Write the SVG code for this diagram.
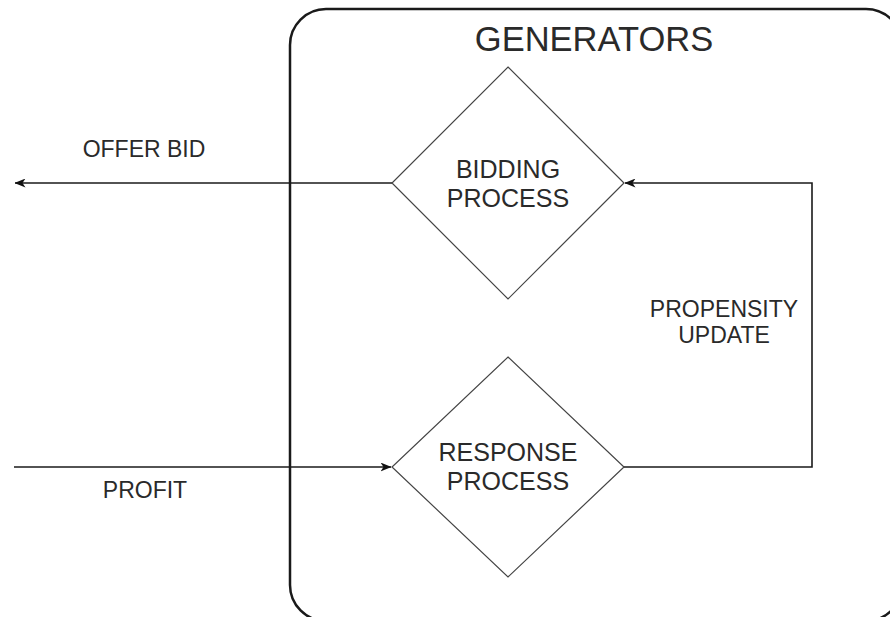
<svg xmlns="http://www.w3.org/2000/svg" width="890" height="617" viewBox="0 0 890 617">
  <defs>
    <marker id="arrow" viewBox="0 0 11 9" refX="10.5" refY="4.5" markerWidth="11" markerHeight="9" markerUnits="userSpaceOnUse" orient="auto">
      <path d="M0,0 L11,4.5 L0,9 L3,4.5 Z" fill="#111"/>
    </marker>
  </defs>
  <style>
    .container { fill: #fff; stroke: #1a1a1a; stroke-width: 2.5; }
    .diamond { fill: #fff; stroke: #444; stroke-width: 1.2; }
    .edge { fill: none; stroke: #1a1a1a; stroke-width: 1.6; }
    .label { font-family: "Liberation Sans", Arial, sans-serif; fill: #2a2a2a; text-anchor: middle; }
    .node-text { font-size: 25px; }
    .edge-text { font-size: 23px; }
    .title { font-size: 34.5px; }
  </style>
  <rect width="890" height="617" fill="#fff"/>

  <!-- generators boundary -->
  <g id="generators">
    <rect class="container" x="290" y="9" width="612" height="612" rx="36" ry="36"/>
    <text class="label title" x="594" y="51">GENERATORS</text>
  </g>

  <!-- connectors -->
  <g id="connectors">
    <path id="offer-bid" class="edge" d="M392,183 L15,183" marker-end="url(#arrow)"/>
    <path id="profit" class="edge" d="M14,467 L391,467" marker-end="url(#arrow)"/>
    <path id="propensity-update" class="edge" d="M624,467 L812,467 L812,183 L625,183" marker-end="url(#arrow)"/>
    <text class="label edge-text" x="144" y="157">OFFER BID</text>
    <text class="label edge-text" x="145" y="498">PROFIT</text>
    <text class="label edge-text" x="724" y="317">PROPENSITY</text>
    <text class="label edge-text" x="724" y="343">UPDATE</text>
  </g>

  <g id="bidding-process">
    <polygon class="diamond" points="508,67 624,183 508,299 392,183"/>
    <text class="label node-text" x="508" y="178">BIDDING</text>
    <text class="label node-text" x="508" y="207">PROCESS</text>
  </g>

  <g id="response-process">
    <polygon class="diamond" points="508,357 624,467 508,577 392,467"/>
    <text class="label node-text" x="508" y="461">RESPONSE</text>
    <text class="label node-text" x="508" y="490">PROCESS</text>
  </g>
</svg>
